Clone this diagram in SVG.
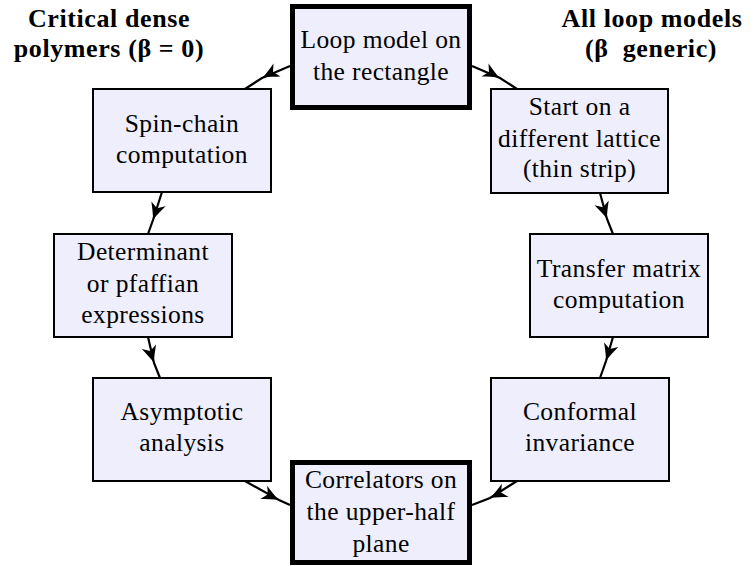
<svg xmlns="http://www.w3.org/2000/svg" width="754" height="566" viewBox="0 0 754 566">
<style>
  .box { fill: #EEEEFC; stroke: #000; stroke-width: 2; }
  .thick { fill: #EEEEFC; stroke: #000; stroke-width: 5; }
  .lbl { font-family: "Liberation Serif", "DejaVu Serif", serif; font-size: 25.5px; fill: #000; text-anchor: middle; letter-spacing: 0.4px; }
  .head { font-family: "Liberation Serif", "DejaVu Serif", serif; font-size: 26px; font-weight: bold; fill: #000; text-anchor: middle; letter-spacing: 0.6px; }
  .edge { fill: none; stroke: #000; stroke-width: 2.2; marker-mid: url(#ah); }
</style>
<defs>
  <marker id="ah" markerUnits="userSpaceOnUse" markerWidth="20" markerHeight="18" refX="0" refY="0" viewBox="-18 -9 20 18" orient="auto">
    <path d="M0,0 C-5,-1.5 -12,-5 -17,-7.5 L-12.5,0 L-17,7.5 C-12,5 -5,1.5 0,0Z" fill="#000"/>
  </marker>
</defs>

<g id="headings">
  <text class="head" x="109" y="27">Critical dense</text>
  <text class="head" x="109" y="57">polymers (β = 0)</text>
  <text class="head" x="652" y="27">All loop models</text>
  <text class="head" x="651" y="57">(β&#160; generic)</text>
</g>

<g id="connectors">
  <path class="edge" d="M290,66 L262,78 L245,89"/>
  <path class="edge" d="M472,66 L500,78 L517,89"/>
  <path class="edge" d="M162,192 L153,220 L148,234"/>
  <path class="edge" d="M148,337 L154,363 L160,378"/>
  <path class="edge" d="M245,481 L279,500 L290,505"/>
  <path class="edge" d="M517,481 L490,498 L472,505"/>
  <path class="edge" d="M600,193 L607,219 L613,234"/>
  <path class="edge" d="M613,337 L606,361 L600,378"/>
</g>

<g id="n-loop">
  <rect class="thick" x="292.5" y="6.5" width="177" height="101"/>
  <text class="lbl" x="381" y="48">Loop model on</text>
  <text class="lbl" x="381" y="80">the rectangle</text>
</g>
<g id="n-spin">
  <rect class="box" x="93" y="89" width="178" height="103"/>
  <text class="lbl" x="182" y="132">Spin-chain</text>
  <text class="lbl" x="182" y="163">computation</text>
</g>
<g id="n-det">
  <rect class="box" x="54" y="234" width="178" height="103"/>
  <text class="lbl" x="143" y="260">Determinant</text>
  <text class="lbl" x="143" y="292">or pfaffian</text>
  <text class="lbl" x="143" y="323">expressions</text>
</g>
<g id="n-asym">
  <rect class="box" x="93" y="378" width="178" height="103"/>
  <text class="lbl" x="182" y="420">Asymptotic</text>
  <text class="lbl" x="182" y="451">analysis</text>
</g>
<g id="n-corr">
  <rect class="thick" x="292.5" y="462.5" width="177" height="100"/>
  <text class="lbl" x="381" y="488">Correlators on</text>
  <text class="lbl" x="381" y="520">the upper-half</text>
  <text class="lbl" x="381" y="552">plane</text>
</g>
<g id="n-start">
  <rect class="box" x="491" y="89" width="177" height="104"/>
  <text class="lbl" x="579.5" y="115">Start on a</text>
  <text class="lbl" x="579.5" y="147">different lattice</text>
  <text class="lbl" x="579.5" y="177">(thin strip)</text>
</g>
<g id="n-transfer">
  <rect class="box" x="530" y="234" width="178" height="103"/>
  <text class="lbl" x="619" y="277">Transfer matrix</text>
  <text class="lbl" x="619" y="308">computation</text>
</g>
<g id="n-conf">
  <rect class="box" x="491" y="378" width="178" height="103"/>
  <text class="lbl" x="580" y="420">Conformal</text>
  <text class="lbl" x="580" y="451">invariance</text>
</g>
</svg>
